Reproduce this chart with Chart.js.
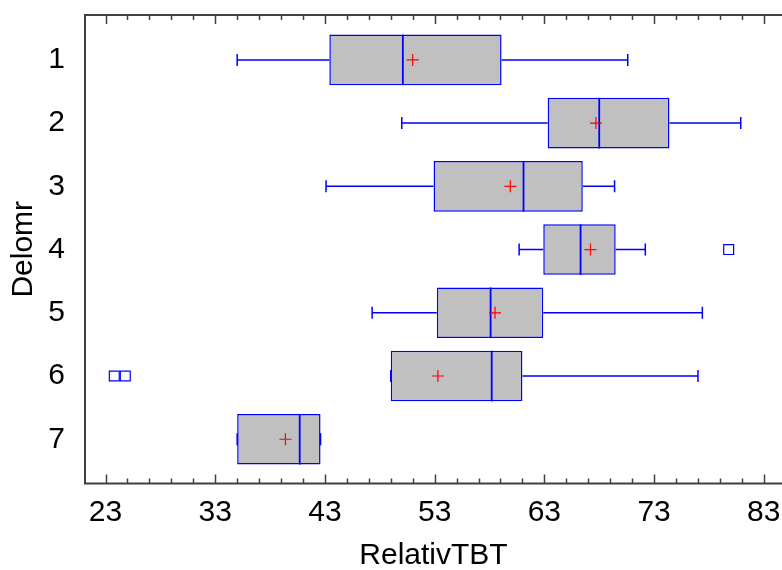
<!DOCTYPE html>
<html>
<head>
<meta charset="utf-8">
<script src="https://cdn.jsdelivr.net/npm/chart.js@4/dist/chart.umd.min.js"></script>
<style>
  html, body { margin: 0; padding: 0; background: #fff; }
</style>
</head>
<body>
<canvas id="myChart" width="782" height="570"></canvas>
<script>
// one box per Delomr group
var groups    = [1, 2, 3, 4, 5, 6, 7];
var whiskLow  = [35.0, 50.0, 43.1, 60.7, 47.3, 49.0, 35.0];
var q1        = [43.4, 63.3, 52.9, 62.9, 53.2, 49.0, 35.0];
var medians   = [50.1, 68.0, 61.1, 66.3, 58.1, 58.2, 40.7];
var means     = [51.0, 67.7, 59.9, 67.2, 58.5, 53.3, 39.4];
var q3        = [59.1, 74.4, 66.5, 69.5, 62.9, 61.0, 42.6];
var whiskHigh = [70.6, 80.9, 69.4, 72.2, 77.4, 77.0, 42.6];
// points outside the whiskers
var outGroup  = [4, 6, 6];
var outValue  = [79.8, 23.8, 24.8];
// axis ticks
var xTicks = [23, 33, 43, 53, 63, 73, 83];
var yTicks = [1, 2, 3, 4, 5, 6, 7];

var FONT = "'Liberation Sans', Arial, sans-serif";
var AXIS_COLOR = '#404040';

// whiskers, caps and medians, drawn right after the boxes
var boxExtras = {
    id: 'boxExtras',
    afterDatasetDraw: function(chart, args) {
        if (args.index !== 0) return;
        var xs = chart.scales.x, ys = chart.scales.y, ctx = chart.ctx;
        var bars = chart.getDatasetMeta(0).data;
        ctx.save();
        ctx.strokeStyle = '#0000ff';
        for (var i = 0; i < groups.length; i++) {
            var y = ys.getPixelForValue(groups[i]);
            var h = bars[i].height;
            var xl = xs.getPixelForValue(whiskLow[i]);
            var x1 = xs.getPixelForValue(q1[i]);
            var x3 = xs.getPixelForValue(q3[i]);
            var xh = xs.getPixelForValue(whiskHigh[i]);
            var xm = xs.getPixelForValue(medians[i]);
            ctx.lineWidth = 1.5;
            ctx.beginPath();
            ctx.moveTo(xl, y); ctx.lineTo(x1, y);
            ctx.moveTo(x3, y); ctx.lineTo(xh, y);
            ctx.moveTo(xl, y - 6); ctx.lineTo(xl, y + 6);
            ctx.moveTo(xh, y - 6); ctx.lineTo(xh, y + 6);
            ctx.stroke();
            ctx.lineWidth = 1.8;
            ctx.beginPath();
            ctx.moveTo(xm, y - h / 2); ctx.lineTo(xm, y + h / 2);
            ctx.stroke();
        }
        ctx.restore();
    }
};

// frame: left, top and bottom lines with ticks pointing inward
var frame = {
    id: 'frame',
    afterDraw: function(chart) {
        var a = chart.chartArea, xs = chart.scales.x, ctx = chart.ctx;
        ctx.save();
        ctx.strokeStyle = AXIS_COLOR;
        ctx.lineWidth = 2;
        ctx.beginPath();
        ctx.moveTo(chart.width, a.top); ctx.lineTo(a.left, a.top);
        ctx.lineTo(a.left, a.bottom); ctx.lineTo(chart.width, a.bottom);
        ctx.stroke();
        ctx.lineWidth = 1.5;
        ctx.beginPath();
        for (var v = 23; v <= 83; v += 2) {
            var px = Math.round(xs.getPixelForValue(v)) + 0.5;
            var len = ((v - 23) % 10 === 0) ? 9 : 5;
            ctx.moveTo(px, a.top); ctx.lineTo(px, a.top + len);
            ctx.moveTo(px, a.bottom); ctx.lineTo(px, a.bottom - len);
        }
        ctx.stroke();
        ctx.restore();
    }
};

var ctx = document.getElementById('myChart').getContext('2d');
var myChart = new Chart(ctx, {
    type: 'bar',
    data: {
        datasets: [
            {
                // boxes Q1..Q3
                indexAxis: 'y',
                order: 3,
                data: groups.map(function(g, i) { return { x: [q1[i], q3[i]], y: g }; }),
                backgroundColor: '#c0c0c0',
                borderColor: '#0000ff',
                borderWidth: 1.5,
                borderSkipped: false,
                categoryPercentage: 0.8,
                barPercentage: 1
            },
            {
                // means
                type: 'scatter',
                order: 1,
                data: groups.map(function(g, i) { return { x: means[i], y: g }; }),
                pointStyle: 'cross',
                radius: 6,
                borderColor: '#ff0000',
                backgroundColor: '#ff0000',
                borderWidth: 1.2
            },
            {
                // outside points
                type: 'scatter',
                order: 2,
                data: outGroup.map(function(g, i) { return { x: outValue[i], y: g }; }),
                pointStyle: 'rect',
                radius: 7,
                borderColor: '#0000ff',
                backgroundColor: '#ffffff',
                borderWidth: 1.2
            }
        ]
    },
    options: {
        responsive: false,
        animation: false,
        layout: {
            autoPadding: false,
            padding: { top: 15, right: 0, left: 0, bottom: 0 }
        },
        plugins: {
            legend: { display: false },
            tooltip: { enabled: false }
        },
        scales: {
            x: {
                type: 'linear',
                offset: false,
                min: 21.13,
                max: 84.66,
                grid: { display: false },
                border: { display: false },
                afterBuildTicks: function(scale) {
                    scale.ticks = xTicks.map(function(v) { return { value: v }; });
                },
                afterFit: function(scale) {
                    scale.height = 86.5;
                    scale.paddingLeft = 0;
                    scale.paddingRight = 0;
                },
                ticks: {
                    autoSkip: false,
                    maxRotation: 0,
                    padding: 3,
                    color: '#000',
                    font: { family: FONT, size: 30 }
                },
                title: {
                    display: true,
                    text: 'RelativTBT',
                    color: '#000',
                    padding: { top: 0, bottom: -4 },
                    font: { family: FONT, size: 30 }
                }
            },
            y: {
                type: 'linear',
                reverse: true,
                offset: false,
                min: 0.29,
                max: 7.70,
                grid: { display: false },
                border: { display: false },
                afterBuildTicks: function(scale) {
                    scale.ticks = yTicks.map(function(v) { return { value: v }; });
                },
                afterFit: function(scale) {
                    scale.width = 85;
                    scale.paddingTop = 0;
                    scale.paddingBottom = 0;
                },
                ticks: {
                    autoSkip: false,
                    padding: 12,
                    color: '#000',
                    font: { family: FONT, size: 30 }
                },
                title: {
                    display: true,
                    text: 'Delomr',
                    color: '#000',
                    padding: { top: 6, bottom: 0 },
                    font: { family: FONT, size: 30 }
                }
            }
        }
    },
    plugins: [boxExtras, frame]
});
</script>
</body>
</html>
